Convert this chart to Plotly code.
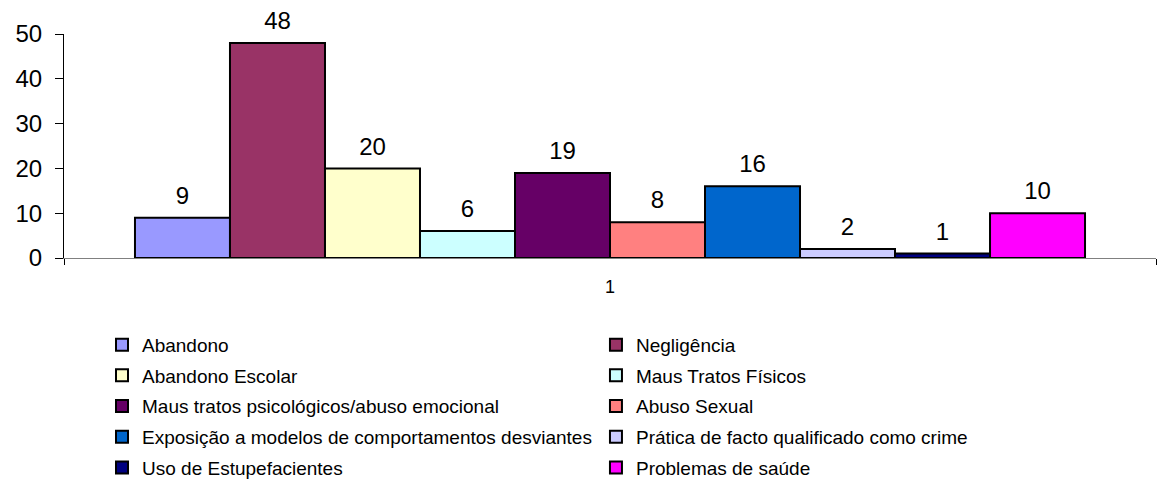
import plotly.graph_objects as go

categories = ["Abandono", "Negligência", "Abandono Escolar", "Maus Tratos Físicos",
              "Maus tratos psicológicos/abuso emocional", "Abuso Sexual",
              "Exposição a modelos de comportamentos desviantes",
              "Prática de facto qualificado como crime", "Uso de Estupefacientes",
              "Problemas de saúde"]
values = [9, 48, 20, 6, 19, 8, 16, 2, 1, 10]
colors = ["#9999FF", "#993366", "#FFFFCC", "#CCFFFF", "#660066", "#FF8080",
          "#0066CC", "#CCCCFF", "#000080", "#FF00FF"]
x_label = "1"
y_ticks = [0, 10, 20, 30, 40, 50]

FONT = "Liberation Sans, Arial, sans-serif"

fig = go.Figure()
for i, (name, v, c) in enumerate(zip(categories, values, colors)):
    fig.add_trace(go.Bar(
        x=[x_label], y=[v], name=name,
        marker=dict(color=c, line=dict(color="black", width=2)),
        legend="legend" if i % 2 == 0 else "legend2",
        legendgroup=f"g{i}",
        offsetgroup=str(i),
        hoverinfo="skip",
    ))
# value labels, grouped the same way as the bars
for i, (name, v) in enumerate(zip(categories, values)):
    fig.add_trace(go.Scatter(
        x=[x_label], y=[v], mode="markers+text", text=[str(v)],
        textposition="top center",
        textfont=dict(size=24, color="black", family=FONT),
        marker=dict(size=11, color="rgba(0,0,0,0)"),
        offsetgroup=str(i), showlegend=False, cliponaxis=False, hoverinfo="skip",
    ))

fig.update_layout(
    width=1159, height=474,
    margin=dict(l=56, r=11, t=26, b=224, autoexpand=False),
    paper_bgcolor="white", plot_bgcolor="white",
    barmode="group", bargap=0.13, bargroupgap=0,
    scattermode="group", scattergap=0.13,
    font=dict(family=FONT, color="black"),
    legend=dict(orientation="v", xref="container", yref="container",
                x=0.0811, y=0.3295, xanchor="left", yanchor="top",
                font=dict(size=19, family=FONT), tracegroupgap=3,
                bgcolor="rgba(0,0,0,0)", itemwidth=30),
    legend2=dict(orientation="v", xref="container", yref="container",
                 x=0.5073, y=0.3295, xanchor="left", yanchor="top",
                 font=dict(size=19, family=FONT), tracegroupgap=3,
                 bgcolor="rgba(0,0,0,0)", itemwidth=30),
    xaxis=dict(showline=True, linecolor="#808080", linewidth=1,
               ticks="outside", tickson="boundaries", ticklen=6, tickcolor="black",
               tickfont=dict(size=18, family=FONT), ticklabelstandoff=12,
               showgrid=False, zeroline=False, automargin=False),
    yaxis=dict(range=[0, 50], tickvals=y_ticks, showline=True, linecolor="black",
               linewidth=1, ticks="outside", ticklen=8, tickcolor="black",
               tickfont=dict(size=24, family=FONT), ticklabelstandoff=8,
               showgrid=False, zeroline=False, automargin=False),
)

fig.write_html("out.html")
